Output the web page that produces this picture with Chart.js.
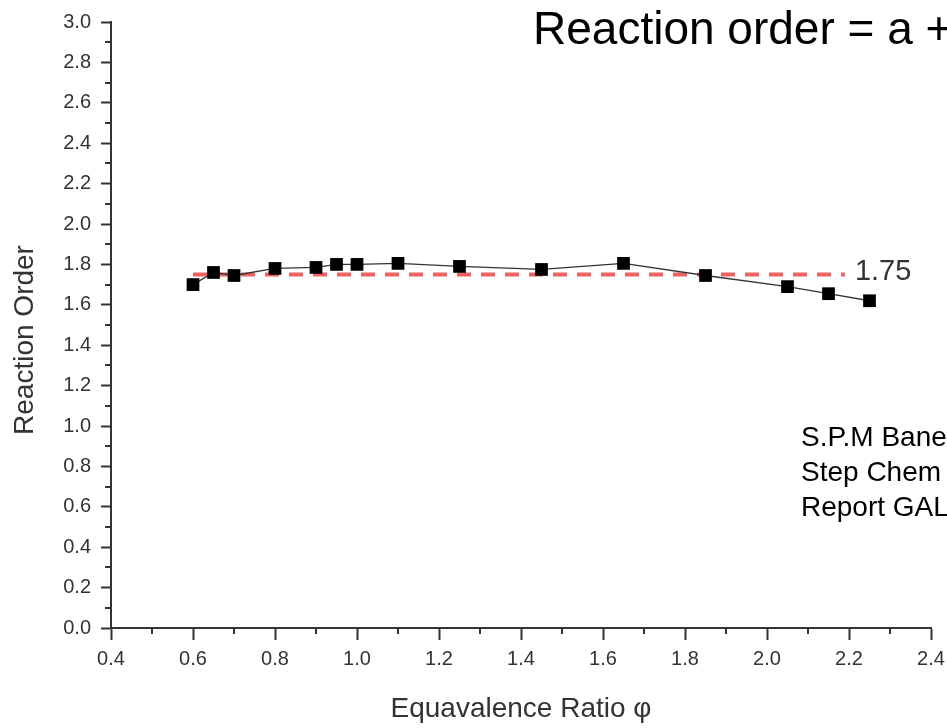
<!DOCTYPE html>
<html><head><meta charset="utf-8">
<script src="https://cdn.jsdelivr.net/npm/chart.js@4.4.0/dist/chart.umd.min.js"></script>
<style>html,body{margin:0;padding:0;background:#fff;overflow:hidden}#wrap{width:947px;height:728px;position:relative}</style>
</head><body><div id="wrap"><canvas id="c" width="947" height="728"></canvas></div>
<script>
// ---- data ----
const phi   = [0.6, 0.65, 0.7, 0.8, 0.9, 0.95, 1.0, 1.1, 1.25, 1.45, 1.65, 1.85, 2.05, 2.15, 2.25];
const order = [1.70, 1.76, 1.745, 1.78, 1.785, 1.80, 1.80, 1.805, 1.79, 1.775, 1.805, 1.745, 1.69, 1.655, 1.62];
const fitValue = 1.75;
const fitRange = [0.6, 2.19];
const fitLabel = "1.75";
const xTickValues = [0.4, 0.6, 0.8, 1.0, 1.2, 1.4, 1.6, 1.8, 2.0, 2.2, 2.4];
const yTickValues = [0.0, 0.2, 0.4, 0.6, 0.8, 1.0, 1.2, 1.4, 1.6, 1.8, 2.0, 2.2, 2.4, 2.6, 2.8, 3.0];
const xMinorTicks = [0.5, 0.7, 0.9, 1.1, 1.3, 1.5, 1.7, 1.9, 2.1, 2.3];
const yMinorTicks = [0.1, 0.3, 0.5, 0.7, 0.9, 1.1, 1.3, 1.5, 1.7, 1.9, 2.1, 2.3, 2.5, 2.7, 2.9];
const titleText = "Reaction order = a + b";
const noteLines = ["S.P.M Bane", "Step Chem", "Report GAL"];
const xTitle = "Equavalence Ratio \u03c6";
const yTitle = "Reaction Order";

const FONT = "'Liberation Sans', Arial, Helvetica, sans-serif";

const extras = {
  id: 'extras',
  afterDraw(chart) {
    const ctx = chart.ctx;
    const xs = chart.scales.x, ys = chart.scales.y;
    ctx.save();
    // minor ticks
    ctx.strokeStyle = '#333';
    ctx.lineWidth = 2;
    ctx.beginPath();
    xMinorTicks.forEach(v => {
      const px = Math.round(xs.getPixelForValue(v));
      ctx.moveTo(px, xs.top); ctx.lineTo(px, xs.top + 6);
    });
    yMinorTicks.forEach(v => {
      const py = Math.round(ys.getPixelForValue(v));
      ctx.moveTo(ys.right, py); ctx.lineTo(ys.right - 6, py);
    });
    ctx.stroke();

    // fit label
    ctx.fillStyle = '#333';
    ctx.font = '29px ' + FONT;
    ctx.textBaseline = 'alphabetic';
    ctx.textAlign = 'left';
    ctx.fillText(fitLabel, xs.getPixelForValue(fitRange[1]) + 10, ys.getPixelForValue(fitValue) + 5);

    // axis titles
    ctx.font = '28px ' + FONT;
    ctx.textAlign = 'center';
    ctx.fillStyle = '#333';
    ctx.fillText(xTitle, (chart.chartArea.left + chart.chartArea.right) / 2, 717);
    ctx.save();
    ctx.translate(33, 340);
    ctx.rotate(-Math.PI / 2);
    ctx.fillText(yTitle, 0, 0);
    ctx.restore();

    // title
    ctx.fillStyle = '#000';
    ctx.textAlign = 'left';
    ctx.font = '46px ' + FONT;
    ctx.fillText(titleText, 533, 44);

    // note
    ctx.font = '28px ' + FONT;
    noteLines.forEach((t, i) => ctx.fillText(t, 801, 446 + i * 35));
    ctx.restore();
  }
};

new Chart(document.getElementById('c'), {
  type: 'scatter',
  data: {
    datasets: [
      {
        label: 'Reaction Order',
        data: phi.map((x, i) => ({ x, y: order[i] })),
        showLine: true,
        borderColor: '#333',
        borderWidth: 1.3,
        pointStyle: 'rect',
        pointRadius: 9,
        pointHoverRadius: 9,
        pointBackgroundColor: '#000',
        pointBorderColor: '#000',
        pointBorderWidth: 0,
        order: 0
      },
      {
        label: fitLabel,
        data: fitRange.map(x => ({ x, y: fitValue })),
        showLine: true,
        borderColor: 'rgba(232,64,64,0.82)',
        borderWidth: 4,
        borderDash: [14, 10],
        pointRadius: 0,
        order: 1
      }
    ]
  },
  options: {
    responsive: false,
    animation: false,
    devicePixelRatio: 1,
    layout: { padding: { top: 21, right: 16, left: 0, bottom: 0 } },
    plugins: { legend: { display: false }, tooltip: { enabled: false } },
    scales: {
      x: {
        type: 'linear', min: 0.4, max: 2.4,
        afterBuildTicks(s) { s.ticks = xTickValues.map(v => ({ value: v })); },
        ticks: { color: '#333', font: { family: FONT, size: 20 }, padding: 7, maxRotation: 0, autoSkip: false,
                 callback: v => Number(v).toFixed(1) },
        grid: { drawOnChartArea: false, tickLength: 12, tickWidth: 2, tickColor: '#333' },
        border: { color: '#333', width: 2 },
        afterFit(s) { s.height = 100; s.paddingRight = 0; s.paddingLeft = 0; }
      },
      y: {
        type: 'linear', min: 0, max: 3.0,
        afterBuildTicks(s) { s.ticks = yTickValues.map(v => ({ value: v })); },
        ticks: { color: '#333', font: { family: FONT, size: 20 }, padding: 10, autoSkip: false,
                 callback: v => Number(v).toFixed(1) },
        grid: { drawOnChartArea: false, tickLength: 10, tickWidth: 2, tickColor: '#333' },
        border: { color: '#333', width: 2 },
        afterFit(s) { s.width = 111; }
      }
    }
  },
  plugins: [extras]
});
</script>
</body></html>
